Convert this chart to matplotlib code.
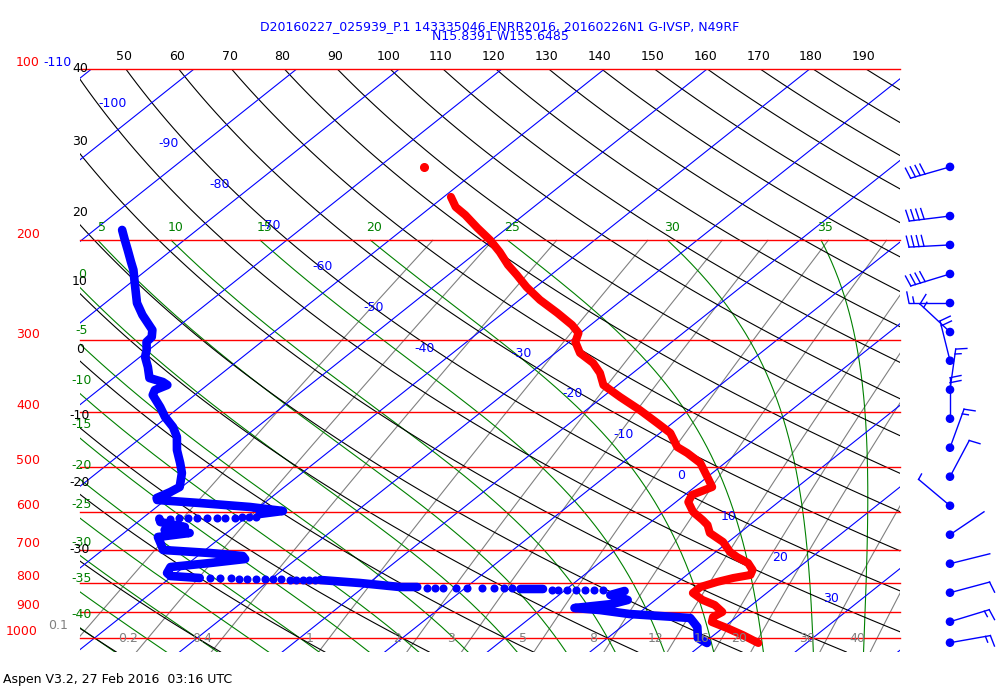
import numpy as np
import matplotlib
matplotlib.use("Agg")
import matplotlib.pyplot as plt
from matplotlib.lines import Line2D
from matplotlib.patches import Circle

W, H = 1000, 700
SKEW = 30.27            # deg C shift per unit ln(1000/p)
P_BOT, P_TOP = 1058.3, 100.0
X_LEFT, X_RIGHT = -41.42, 38.50

# ---- sounding: temperature (hPa, degC) ----
temp_p = [167.8, 174.8, 180.5, 190.3, 199.8, 209.7, 221.0, 230.2, 241.6, 254.6, 268.4,
          281.8, 291.0, 301.8, 315.6, 328.6, 342.2, 359.2, 377.1, 397.4, 418.9, 436.2,
          461.7, 473.0, 492.5, 521.2, 542.8, 560.6, 576.7, 600.5, 620.3, 633.0, 653.8,
          678.1, 706.1, 720.6, 738.2, 759.4, 774.9, 784.4, 797.2, 813.5, 833.5, 857.4,
          875.0, 900.1, 918.5, 937.3, 960.3, 987.9, 1020.4]
temp_t = [-59.3, -57.6, -55.7, -52.9, -50.2, -47.8, -45.4, -43.3, -40.9, -38.0, -34.7,
          -31.8, -30.2, -29.4, -27.6, -25.1, -23.2, -21.4, -18.3, -14.8, -11.5, -9.0,
          -6.6, -4.9, -2.4, 0.0, 1.7, 0.7, 1.2, 2.9, 4.8, 5.9, 7.1,
          9.5, 11.4, 12.7, 14.5, 15.8, 16.2, 14.9, 13.8, 12.8, 12.8, 14.6,
          16.4, 18.0, 17.7, 18.2, 20.4, 22.8, 25.3]
stray_p = [148.7]
stray_t = [-65.6]

# ---- sounding: dew point, solid parts (nan = gap) ----
dew_p = [191.8, 199.8, 208.0, 218.4, 225.5, 236.8, 257.8, 270.6, 287.5, 295.8, 301.8,
         311.8, 320.7, 334.0, 349.2, 354.9, 359.2, 366.6, 374.0, 392.7, 408.9, 425.8,
         443.3, 467.3, 492.5, 512.9, 542.8, 553.9, 567.5, 572.1, 579.1, 588.5, 598.1, 605.4,
         np.nan,
         617.0, 625.4, 638.1, 645.9, 653.8, 664.5, 694.7, 700.4, 708.9, 717.6, 726.4,
         738.2, 750.3, 768.7, 778.1, 784.4,
         np.nan,
         790.8, 800.4, 813.5, 813.5,
         np.nan,
         820.1, 820.1,
         np.nan,
         826.8, 840.3, 857.4, 871.4, 885.7, 892.9, 907.5, 922.2, 956.5, 1000.0, 1020.4]
dew_t = [-87.3, -85.8, -84.3, -82.5, -81.3, -79.7, -76.9, -74.9, -72.1, -71.3, -71.2,
         -70.2, -69.5, -68.0, -66.5, -64.7, -63.9, -64.5, -64.1, -61.9, -60.2, -58.2,
         -56.6, -55.0, -53.1, -51.7, -50.2, -50.5, -51.1, -50.8, -46.3, -40.9, -37.2, -39.1,
         np.nan,
         -48.3, -47.8, -44.8, -46.4, -43.6, -46.2, -44.4, -44.1, -39.2, -35.6, -35.0,
         -37.9, -41.3, -40.9, -40.2, -37.1,
         np.nan,
         -25.1, -20.9, -16.5, -14.8,
         np.nan,
         -4.5, -2.3,
         np.nan,
         5.9, 5.0, 7.3, 6.3, 3.1, 5.8, 9.2, 15.6, 17.4, 18.8, 20.3]
# sparse dew point samples (drawn as separate dots)
dot_p = [613.0, 613.4, 613.7, 614.1, 614.5, 614.8, 615.2, 615.6, 615.9, 616.3, 616.6, 617.0,
         785.0, 785.5, 786.0, 786.5, 787.0, 787.5, 788.0, 788.5, 789.0, 789.5, 790.0, 790.3,
         790.6, 790.8,
         816.8, 816.8, 816.8, 816.8, 816.8, 816.8, 816.8, 816.8, 816.8,
         823.5, 823.5, 823.5, 823.5, 823.5, 823.5, 823.5]
dot_t = [-39.1, -39.7, -40.4, -41.1, -42.0, -42.8, -43.7, -44.7, -45.6, -46.4, -47.3, -48.3,
         -36.1, -35.1, -34.0, -33.2, -32.4, -31.5, -30.6, -29.8, -29.0, -28.1, -27.5, -26.8,
         -26.2, -25.6,
         -13.7, -12.9, -12.2, -10.9, -9.8, -8.4, -7.2, -6.2, -5.4,
         -1.3, -0.7, 0.2, 1.0, 1.9, 2.8, 3.7]

# ---- winds ----
wind_p = [148.6, 181.3, 203.8, 229.2, 257.8, 289.9, 325.6, 366.1, 411.7, 463.0,
          520.6, 585.5, 658.4, 740.3, 832.5, 936.2, 1019.2]
wind_dir = [254, 263, 267, 253, 270, 313, 346, 8, 0, 20, 28, 310, 56, 76, 75, 73, 80]
wind_spd = [40, 40, 40, 40, 15, 15, 20, 15, 20, 15, 10, 5, 2, 2, 10, 15, 15]

# ---- background line sets ----
press_levels = [100, 200, 300, 400, 500, 600, 700, 800, 900, 1000]
isotherms = np.arange(-150, 51, 10)
dry_thetas = np.arange(-40, 191, 10)
moist_thetas = np.arange(-40, 36, 5)
mix_ratios = [0.1, 0.2, 0.4, 1, 2, 3, 5, 8, 12, 16, 20, 30, 40]
mix_labels = ["0.1", "0.2", "0.4", "1", "2", "3", "5", "8", "12", "16", "20", "30", "40"]
iso_lab_t = [-100, -90, -80, -70, -60, -50, -40, -30, -20, -10, 0, 10, 20, 30]
iso_lab_p = [114.8, 135.4, 159.7, 188.4, 222.3, 262.2, 309.3,
             315.6, 372.3, 439.2, 518.1, 611.2, 721.0, 850.6]

title1 = "D20160227_025939_P.1 143335046 ENRR2016, 20160226N1 G-IVSP, N49RF"
title2 = "N15.8391 W155.6485"
footer = "Aspen V3.2, 27 Feb 2016  03:16 UTC"


def skx(t, p):
    return np.asarray(t, float) + SKEW * np.log(1000.0 / np.asarray(p, float))


def moist_profile(tw, pres):
    rd, cp, lv, eps = 287.04, 1004.0, 2.5e6, 0.622

    def f(t, p):
        es = 6.112 * np.exp(17.67 * (t - 273.15) / (t - 29.65))
        rs = eps * es / p
        return (rd * t + lv * rs) / (p * (cp + lv * lv * rs * eps / (rd * t * t)))

    out = [tw + 273.15]
    for i in range(1, len(pres)):
        t, p, h = out[-1], pres[i - 1], pres[i] - pres[i - 1]
        k1 = f(t, p)
        k2 = f(t + h * k1 / 2, p + h / 2)
        k3 = f(t + h * k2 / 2, p + h / 2)
        k4 = f(t + h * k3, p + h)
        out.append(t + h * (k1 + 2 * k2 + 2 * k3 + k4) / 6)
    return np.array(out) - 273.15


fig = plt.figure(figsize=(W / 100, H / 100), dpi=100)
ax = fig.add_axes([80 / W, 1 - 652 / H, 820 / W, 583 / H])
ax.set_yscale("log")
ax.set_ylim(P_BOT, P_TOP)
ax.set_xlim(X_LEFT, X_RIGHT)
ax.axis("off")

ov = fig.add_axes([0, 0, 1, 1], zorder=5)
ov.set_xlim(0, W)
ov.set_ylim(H, 0)
ov.axis("off")


def to_pix(xd, p):
    pts = ax.transData.transform(np.column_stack([np.atleast_1d(xd), np.atleast_1d(p)]))
    return pts[:, 0], H - pts[:, 1]


FS = 9
LW = 0.8

# mixing ratio lines
p_low = np.geomspace(P_BOT, 200, 60)
for w, lab in zip(mix_ratios, mix_labels):
    e = w * p_low / (622.0 + w)
    tl = 243.5 * np.log(e / 6.112) / (17.67 - np.log(e / 6.112))
    xs = skx(tl, p_low)
    ax.plot(xs, p_low, color="#808080", lw=LW)
    e0 = w * 1000.0 / (622.0 + w)
    t0 = 243.5 * np.log(e0 / 6.112) / (17.67 - np.log(e0 / 6.112))
    if skx(t0, 1000) > X_LEFT:
        px, py = to_pix(skx(t0, 1000), 1000)
        ov.text(px[0] - 20, py[0] + 1, lab, color="#808080", fontsize=FS, ha="center", va="center")
    else:
        px, py = to_pix(X_LEFT, 1000)
        ov.text(px[0] - 12, py[0] - 12, lab, color="#808080", fontsize=FS, ha="right", va="center")

# moist adiabats
p_up = np.arange(1000.0, 199.0, -2.0)
p_dn = np.arange(1000.0, 1062.0, 2.0)
for tw in moist_thetas:
    up = moist_profile(tw, p_up)
    dn = moist_profile(tw, p_dn)
    pp = np.concatenate([p_dn[::-1], p_up[1:]])
    tt = np.concatenate([dn[::-1], up[1:]])
    xs = skx(tt, pp)
    ax.plot(xs, pp, color="#008000", lw=LW)
    if xs[-1] > X_LEFT:
        px, py = to_pix(xs[-1], 200)
        ov.text(px[0] + 4, py[0] - 13, f"{tw:g}", color="#008000", fontsize=FS, ha="center", va="center")
    else:
        pc = np.exp(np.interp(X_LEFT, xs[::-1], np.log(pp[::-1])))
        px, py = to_pix(X_LEFT, pc)
        ov.text(px[0] + 2, py[0] - 13.5, f"{tw:g}", color="#008000", fontsize=FS, ha="center", va="center")

# dry adiabats
p_all = np.geomspace(P_BOT, P_TOP, 80)
for th in dry_thetas:
    tt = (th + 273.15) * (p_all / 1000.0) ** 0.288 - 273.15
    xs = skx(tt, p_all)
    ax.plot(xs, p_all, color="black", lw=LW)
    if xs[-1] > X_LEFT + 1:
        px, py = to_pix(xs[-1], P_TOP)
        ov.text(px[0] - 2, py[0] - 12, f"{th:g}", color="black", fontsize=FS, ha="center", va="center")
    elif th > -40:
        pc = np.exp(np.interp(X_LEFT, xs[::-1], np.log(p_all[::-1])))
        px, py = to_pix(X_LEFT, pc)
        ov.text(px[0], max(py[0] - 12, 68), f"{th:g}", color="black", fontsize=FS, ha="center", va="center")

# isotherms
for t in isotherms:
    ax.plot(skx([t, t], [P_BOT, P_TOP]), [P_BOT, P_TOP], color="blue", lw=LW)
for t, p in zip(iso_lab_t, iso_lab_p):
    px, py = to_pix(skx(t, p), p)
    ov.text(px[0] - 24, py[0], f"{t:g}", color="blue", fontsize=FS, ha="right", va="center")

# isobars
for p in press_levels:
    ax.axhline(p, color="red", lw=1.0, clip_on=False)
    px, py = to_pix(X_LEFT, p)
    ov.text(40 if p < 1000 else 38, py[0] - 6, f"{p}", color="red", fontsize=FS, ha="right", va="center")
ov.text(43, 62, "-110", color="blue", fontsize=FS, ha="left", va="center")

# sounding traces
ax.plot(skx(temp_t, temp_p), temp_p, color="red", lw=5.8,
        solid_capstyle="round", solid_joinstyle="round", zorder=4)
ax.plot(skx(stray_t, stray_p), stray_p, "o", color="red", ms=5.5, zorder=4)
ax.plot(skx(dew_t, dew_p), dew_p, color="blue", lw=6.2,
        solid_capstyle="round", solid_joinstyle="round", zorder=4)
ax.plot(skx(dot_t, dot_p), dot_p, "o", color="blue", ms=5.8, mec="none", zorder=4)

# wind barbs (staff toward where wind comes from, feathers on clockwise side)
STAFF, TICK, HALF, GAP = 41, 11, 6, 5
for p, d, s in zip(wind_p, wind_dir, wind_spd):
    _, yb = to_pix(0, p)
    x0, y0 = 950.0, yb[0]
    r = np.radians(d)
    sx, sy = np.sin(r), -np.cos(r)
    tx, ty = np.cos(r), np.sin(r)
    ov.add_line(Line2D([x0, x0 + STAFF * sx], [y0, y0 + STAFF * sy], color="blue", lw=1.0))
    n_full, n_half = int(s // 10), int((s % 10) >= 5)
    pos = STAFF
    for k in range(n_full + n_half):
        ln = TICK if k < n_full else HALF
        bx, by = x0 + pos * sx, y0 + pos * sy
        ov.add_line(Line2D([bx, bx + ln * tx + 0.2 * ln * sx], [by, by + ln * ty + 0.2 * ln * sy],
                           color="blue", lw=1.0))
        pos -= GAP
    ov.add_patch(Circle((x0, y0), 3.6, color="blue"))

# titles
ov.text(500, 27, title1, color="blue", fontsize=FS, ha="center", va="center")
ov.text(500, 37, title2, color="blue", fontsize=FS, ha="center", va="center")
ov.text(3, 680, footer, color="black", fontsize=FS, ha="left", va="center")

fig.savefig("out.png", dpi=100)
